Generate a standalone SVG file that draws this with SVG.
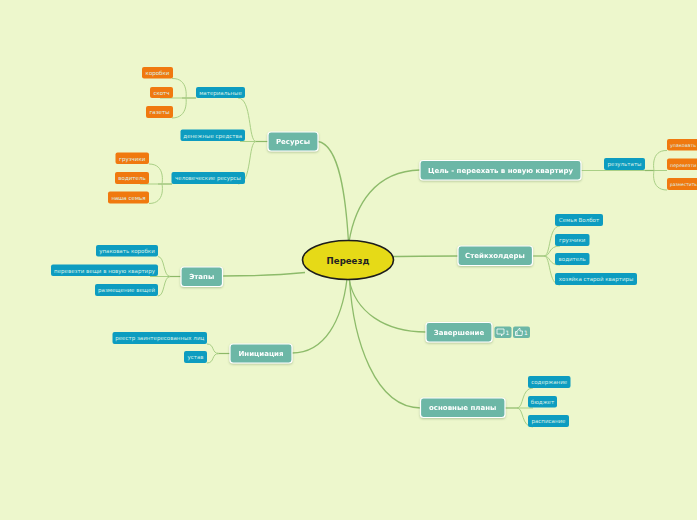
<svg xmlns="http://www.w3.org/2000/svg" width="697" height="520" viewBox="0 0 697 520">
<style>
text{font-family:"DejaVu Sans",Verdana,sans-serif;text-anchor:middle}
.m rect{fill:#6cb7a6;stroke:#fff;stroke-width:1.2}
.m text{fill:#fff;font-size:7px;font-weight:bold}
.b rect{fill:#0d9cc0}
.o rect{fill:#f0790f}
.b text,.o text{fill:#d8f0e8;font-size:5.5px}
.l{fill:none;stroke:#8dbb6a;stroke-width:1.3}
.t{fill:none;stroke:#a9cf85;stroke-width:1}
.s{fill:none;stroke:#8db968;stroke-width:1.2}
.k{fill:none;stroke:#fff;stroke-width:.8}
</style>
<defs><filter id="sh" x="-20%" y="-30%" width="140%" height="170%"><feDropShadow dx="0" dy="1" stdDeviation="1" flood-color="#6c8a5a" flood-opacity=".45"/></filter></defs>
<rect width="697" height="520" fill="#edf7cc"/>
<g id="connectors">
<path class="l" d="M348.500 242C346 200 340 145 318 141.500"/>
<path class="l" d="M349 242C355 205 375 171 420 170"/>
<path class="l" d="M305 272.500C280 275 250 276 223 276"/>
<path class="l" d="M393 256.500C415 256 435 256 458 256"/>
<path class="l" d="M347 279C342 320 325 353 292 353"/>
<path class="l" d="M349 279C355 312 385 332 426 332"/>
<path class="l" d="M349.500 279C353 340 375 408 421 408"/>
<path class="s" d="M268 141.500H256"/><path class="t" d="M256 141.500C248 141 252 98 238 98"/><path class="t" d="M256 141.500H240"/><path class="t" d="M256 141.500C248 142 252 184 238 184"/>
<path class="s" d="M196 98H182"/><path class="t" d="M182 98H160"/><path class="t" d="M172 78.500C189 78 186 98 186 98C186 98 189 118 172 118"/>
<path class="s" d="M172 184H158"/><path class="t" d="M158 184H140"/><path class="t" d="M149 164C166 164 162 184 162 184C162 184 166 203.500 149 203.500"/>
<path class="s" d="M181 276.500H168"/><path class="t" d="M168 276.500H150"/><path class="t" d="M158 256.500C165 257 163 276 170 276.500C163 277 165 296 158 296"/>
<path class="s" d="M230 353.500H217"/><path class="t" d="M207 344C215 344 211 353.500 219 353.500C211 353.500 215 363 207 363"/>
<path class="t" d="M581 170.500H667"/><path class="s" d="M645 170.500H654"/><path class="t" d="M667 150.500C650 150 654 170 654 170.500C654 171 650 190 667 190"/>
<path class="s" d="M532 256H546"/><path class="t" d="M544 256C551 256 548 226 560 226"/><path class="t" d="M544 256C551 256 548 246 560 246"/><path class="t" d="M544 256C551 256 548 265 560 265"/><path class="t" d="M544 256C551 256 548 285 560 285"/>
<path class="s" d="M505 408H519"/><path class="t" d="M517 408C524 408 521 388 533 388"/><path class="t" d="M517 408H533"/><path class="t" d="M517 408C524 408 521 427 533 427"/>
</g>
<g id="center"><ellipse cx="348" cy="260" rx="45.500" ry="19.500" fill="#e6da17" stroke="#1c1c1c" stroke-width="1.600"/><text x="348" y="264" font-size="8.600" font-weight="bold" fill="#222">Переезд</text></g>
<g id="n-res" class="m" filter="url(#sh)"><rect x="268" y="132" width="50" height="19" rx="3"/><text x="293" y="144.300">Ресурсы</text></g>
<g id="n-goal" class="m" filter="url(#sh)"><rect x="420" y="160.500" width="161" height="19.500" rx="3"/><text x="500.500" y="173">Цель - переехать в новую квартиру</text></g>
<g id="n-stages" class="m" filter="url(#sh)"><rect x="181" y="267" width="41.500" height="19.500" rx="3"/><text x="201.700" y="279.300">Этапы</text></g>
<g id="n-stake" class="m" filter="url(#sh)"><rect x="458" y="246" width="74.500" height="19.500" rx="3"/><text x="495" y="258.300">Стейкхолдеры</text></g>
<g id="n-init" class="m" filter="url(#sh)"><rect x="230" y="344" width="62" height="19" rx="3"/><text x="261" y="356.300">Инициация</text></g>
<g id="n-end" class="m" filter="url(#sh)"><rect x="426" y="322.500" width="66" height="19.500" rx="3"/><text x="459" y="334.800">Завершение</text></g>
<g id="n-plans" class="m" filter="url(#sh)"><rect x="420.500" y="398" width="84.500" height="19.500" rx="3"/><text x="462.700" y="410.300">основные планы</text></g>
<g id="b-mat" class="b"><rect x="196" y="87" width="49" height="11" rx="2"/><text x="220.500" y="94.500">материальные</text></g>
<g id="b-money" class="b"><rect x="180.500" y="129.500" width="64.500" height="11.500" rx="2"/><text x="212.700" y="137.500">денежные средства</text></g>
<g id="b-people" class="b"><rect x="171.500" y="172" width="73.500" height="12" rx="2"/><text x="208" y="180">человеческие ресурсы</text></g>
<g id="o-box" class="o"><rect x="142" y="67" width="31" height="11.500" rx="2"/><text x="157.500" y="75">коробки</text></g>
<g id="o-tape" class="o"><rect x="150" y="87" width="23" height="11" rx="2"/><text x="161.500" y="94.500">скотч</text></g>
<g id="o-paper" class="o"><rect x="146" y="106" width="27" height="12" rx="2"/><text x="159.500" y="114">газеты</text></g>
<g id="o-mov" class="o"><rect x="115.500" y="152.500" width="33.500" height="11.500" rx="2"/><text x="132.200" y="160.500">грузчики</text></g>
<g id="o-drv" class="o"><rect x="115" y="172" width="34" height="12" rx="2"/><text x="132" y="180">водитель</text></g>
<g id="o-fam" class="o"><rect x="108" y="191.500" width="41" height="12" rx="2"/><text x="128.500" y="199.500">наша семья</text></g>
<g id="b-pack" class="b"><rect x="96" y="245" width="62" height="11.500" rx="2"/><text x="127" y="253">упаковать коробки</text></g>
<g id="b-move" class="b"><rect x="51" y="264.500" width="107" height="11.500" rx="2"/><text x="104.500" y="272.500">перевезти вещи в новую квартиру</text></g>
<g id="b-place" class="b"><rect x="95" y="284" width="63" height="12" rx="2"/><text x="126.500" y="292">размещение вещей</text></g>
<g id="b-reg" class="b"><rect x="112.500" y="332" width="94.500" height="12" rx="2"/><text x="159.700" y="340">реестр заинтересованных лиц</text></g>
<g id="b-charter" class="b"><rect x="184" y="351" width="23" height="12" rx="2"/><text x="195.500" y="359">устав</text></g>
<g id="b-res" class="b"><rect x="604" y="158" width="41" height="12" rx="2"/><text x="624.500" y="166">результаты</text></g>
<g id="o-r1" class="o"><rect x="667" y="139" width="40" height="11.500" rx="2"/><text x="670" y="147" style="text-anchor:start;font-size:4.800px">упаковать</text></g>
<g id="o-r2" class="o"><rect x="667" y="158.500" width="40" height="11.500" rx="2"/><text x="670" y="166.500" style="text-anchor:start;font-size:4.800px">перевезти</text></g>
<g id="o-r3" class="o"><rect x="667" y="178" width="40" height="12" rx="2"/><text x="670" y="186" style="text-anchor:start;font-size:4.400px">разместить</text></g>
<g id="b-fam" class="b"><rect x="555" y="214" width="48" height="12" rx="2"/><text x="579" y="222">Семья Волбот</text></g>
<g id="b-mov2" class="b"><rect x="555" y="234" width="34.500" height="12" rx="2"/><text x="572.200" y="242">грузчики</text></g>
<g id="b-drv2" class="b"><rect x="555" y="253" width="34.500" height="12" rx="2"/><text x="572.200" y="261">водитель</text></g>
<g id="b-host" class="b"><rect x="555" y="273" width="82" height="12" rx="2"/><text x="596" y="281">хозяйка старой квартиры</text></g>
<g id="b-cont" class="b"><rect x="528" y="376" width="42.500" height="12" rx="2"/><text x="549.200" y="384">содержание</text></g>
<g id="b-budget" class="b"><rect x="528" y="396" width="29" height="11.500" rx="2"/><text x="542.500" y="404">бюджет</text></g>
<g id="b-sched" class="b"><rect x="528" y="415" width="41" height="12" rx="2"/><text x="548.500" y="423">расписание</text></g>
<g id="badge-comment"><rect x="494.500" y="326.500" width="17" height="11.500" rx="2" fill="#6cb7a6"/><path class="k" d="M497 329H504V334H502.500L501.500 336V334H497Z"/><text x="507.500" y="335" font-size="6" fill="#fff">1</text></g>
<g id="badge-like"><rect x="513" y="326.500" width="17" height="11.500" rx="2" fill="#6cb7a6"/><path class="k" d="M515.500 331.500H517V335.500H515.500ZM517 331.500L519 328.500H520V331H522.500L522 335.500H517"/><text x="526" y="335" font-size="6" fill="#fff">1</text></g>
</svg>
